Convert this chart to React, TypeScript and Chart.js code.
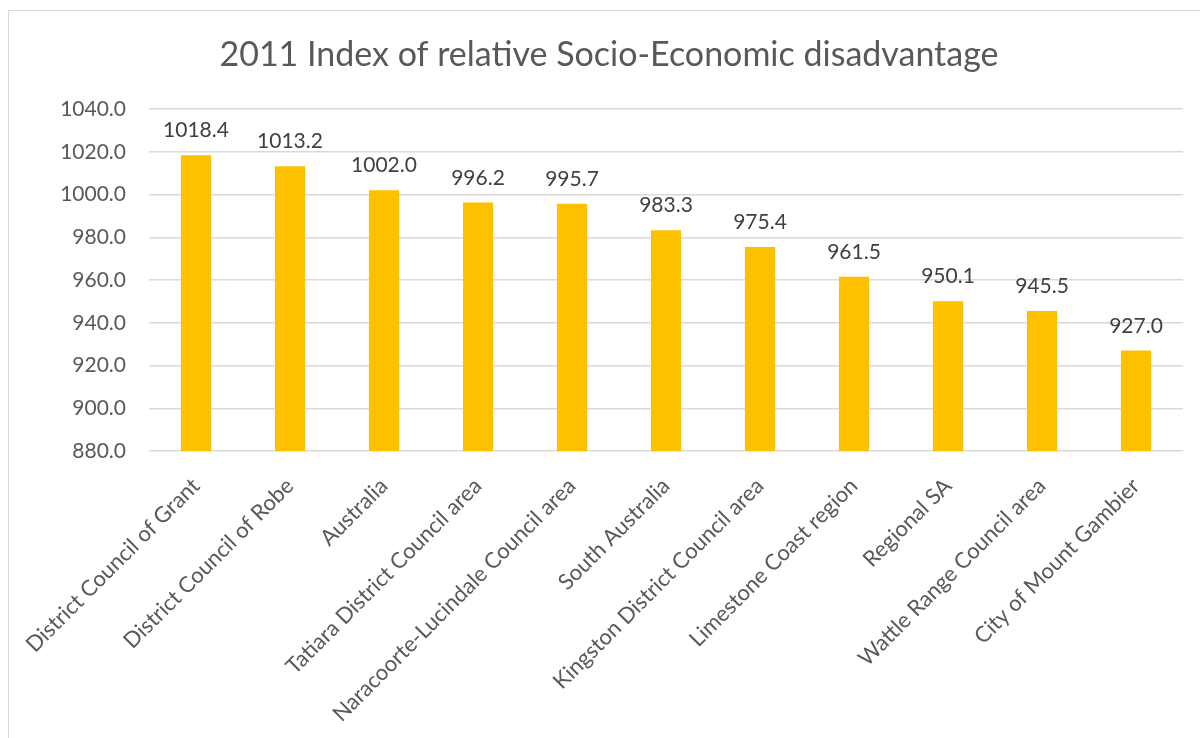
import React, { useEffect, useRef } from "react";
import { Chart, registerables } from "chart.js";

Chart.register(...registerables);

const TITLE = "2011 Index of relative Socio-Economic disadvantage";
const categories = [
  "District Council of Grant",
  "District Council of Robe",
  "Australia",
  "Tatiara District Council area",
  "Naracoorte-Lucindale Council area",
  "South Australia",
  "Kingston District Council area",
  "Limestone Coast region",
  "Regional SA",
  "Wattle Range Council area",
  "City of Mount Gambier",
];
const values = [1018.4, 1013.2, 1002.0, 996.2, 995.7, 983.3, 975.4, 961.5, 950.1, 945.5, 927.0];
const yMin = 880;
const yMax = 1040;
const yStep = 20;

const FONT = "Lato, 'Open Sans', sans-serif";

const titlePlugin = {
  id: "customTitle",
  afterDraw(chart: any) {
    const ctx = chart.ctx;
    ctx.save();
    ctx.font = `34px ${FONT}`;
    ctx.fillStyle = "#595959";
    ctx.textAlign = "center";
    ctx.textBaseline = "middle";
    ctx.fillText(TITLE, 609, 55);
    ctx.restore();
  },
};

const dataLabelPlugin = {
  id: "dataLabels",
  afterDatasetsDraw(chart: any) {
    const ctx = chart.ctx;
    const meta = chart.getDatasetMeta(0);
    ctx.save();
    ctx.font = `21px ${FONT}`;
    ctx.fillStyle = "#404040";
    ctx.textAlign = "center";
    ctx.textBaseline = "alphabetic";
    meta.data.forEach((bar: any, i: number) => {
      ctx.fillText(values[i].toFixed(1), bar.x, bar.y - 18);
    });
    ctx.restore();
  },
};

export default function App() {
  const ref = useRef<HTMLCanvasElement>(null);
  useEffect(() => {
    if (!ref.current) return;
    const chart = new Chart(ref.current, {
      type: "bar",
      data: {
        labels: categories,
        datasets: [
          {
            data: values,
            backgroundColor: "#FFC000",
            borderWidth: 0,
            barPercentage: 0.32,
            categoryPercentage: 1,
          },
        ],
      },
      options: {
        responsive: false,
        animation: false,
        devicePixelRatio: 1,
        layout: { padding: { left: 0, right: 17, top: 109, bottom: 0 } },
        plugins: {
          legend: { display: false },
          title: { display: false },
          tooltip: { enabled: false },
        },
        scales: {
          x: {
            grid: { display: false, drawTicks: false },
            border: { display: false },
            ticks: {
              autoSkip: false,
              minRotation: 45,
              maxRotation: 45,
              padding: 22,
              labelOffset: 0,
              color: "#595959",
              font: { family: FONT, size: 22 },
            },
            afterFit(scale: any) {
              scale.height = 738 - 451;
            },
          },
          y: {
            min: yMin,
            max: yMax,
            grid: { color: "#d9d9d9", lineWidth: 1.5, drawTicks: false },
            border: { display: false },
            ticks: {
              stepSize: yStep,
              padding: 23,
              color: "#595959",
              font: { family: FONT, size: 21 },
              callback: (v: any) => Number(v).toFixed(1),
            },
            afterFit(scale: any) {
              scale.width = 149;
            },
          },
        },
      },
      plugins: [titlePlugin, dataLabelPlugin],
    });
    return () => chart.destroy();
  }, []);

  return (
    <div style={{ position: "absolute", left: 0, top: 0, width: 1200, height: 738, overflow: "hidden", background: "#fff" }}>
      <div
        style={{
          position: "absolute",
          left: 8,
          top: 10,
          width: 1192,
          height: 728,
          borderLeft: "1.5px solid #d9d9d9",
          borderTop: "1.5px solid #d9d9d9",
          boxSizing: "border-box",
        }}
      />
      <canvas ref={ref} width={1200} height={738} style={{ position: "absolute", left: 0, top: 0, width: 1200, height: 738 }} />
    </div>
  );
}
